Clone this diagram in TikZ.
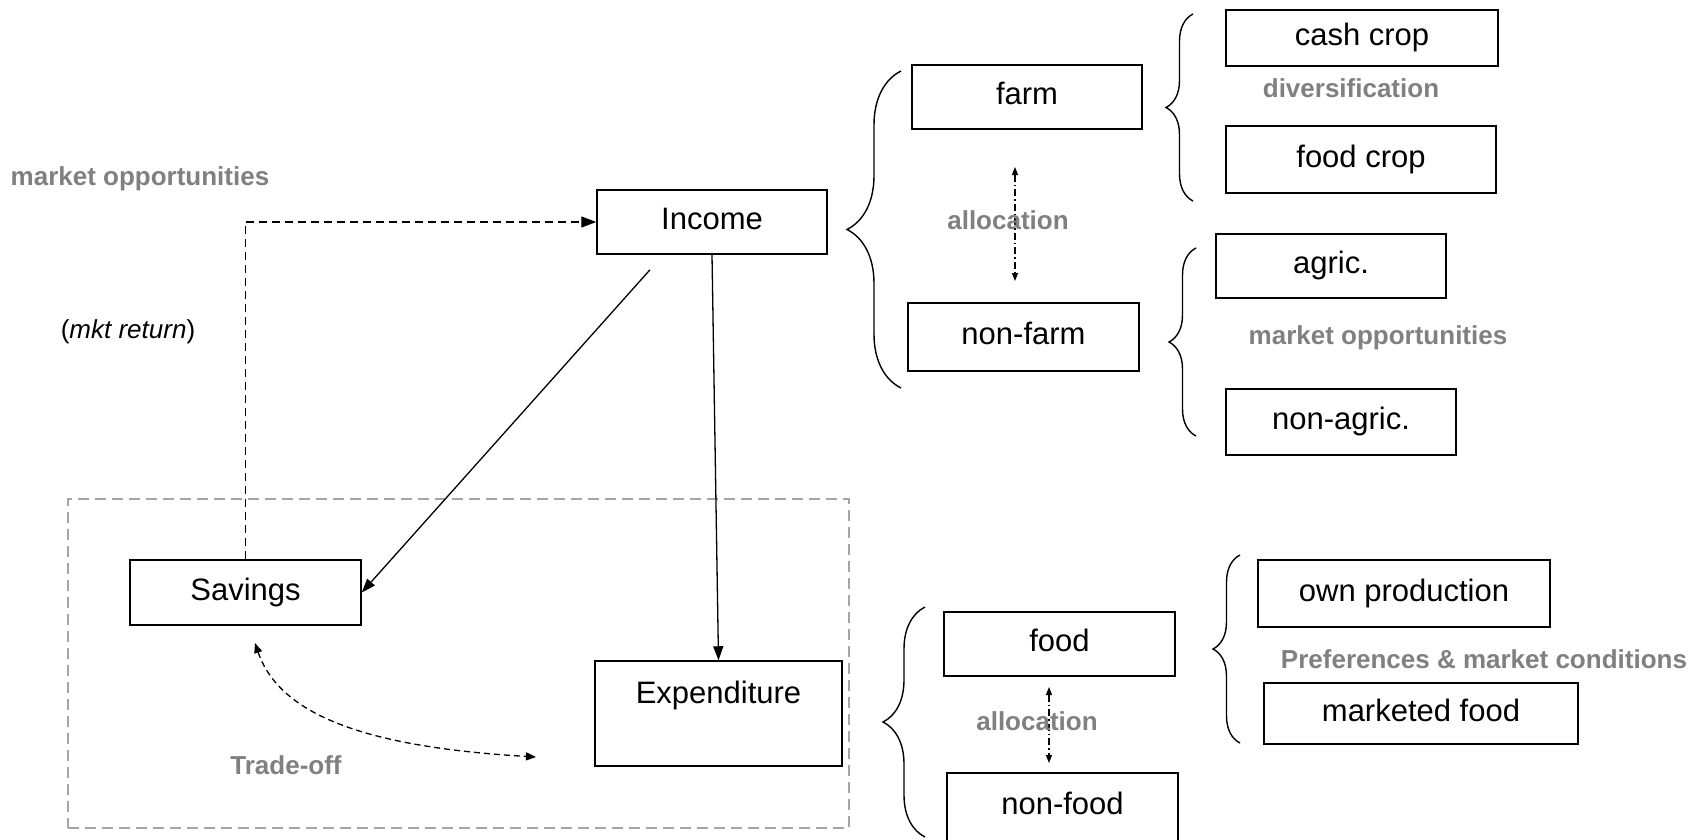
\documentclass[tikz,border=0pt]{standalone}
\usepackage{fontspec}
\setmainfont{Liberation Sans}
\usetikzlibrary{arrows.meta,decorations.pathreplacing,calc}
\definecolor{lgray}{RGB}{128,128,128}
\definecolor{fgray}{RGB}{165,165,165}
\pgfdeclarelayer{edgelayer}
\pgfdeclarelayer{nodelayer}
\pgfsetlayers{edgelayer,nodelayer,main}
\tikzstyle{box}=[rectangle, draw=black, line width=1.5pt, inner sep=0pt, text height=22pt, text depth=7pt, font=\fontsize{31}{37}\selectfont]
\tikzstyle{note}=[inner sep=0pt, text=lgray, font=\bfseries\fontsize{26}{31}\selectfont]
\tikzstyle{plain}=[inner sep=0pt, font=\fontsize{26}{31}\selectfont]
\tikzstyle{flow}=[-{Triangle[length=14pt,width=10pt]}, line width=1.3pt]
\tikzstyle{market}=[-{Triangle[length=15pt,width=11pt]}, line width=1.3pt, dash pattern=on 8pt off 5pt]
\tikzstyle{alloc}=[{Triangle[length=8pt,width=6pt]}-{Triangle[length=8pt,width=6pt]}, line width=1.2pt, dash pattern=on 7pt off 3pt on 1.5pt off 3pt]
\tikzstyle{tradeoff}=[{Triangle[length=10pt,width=8pt]}-{Triangle[length=10pt,width=8pt]}, line width=1.3pt, dash pattern=on 6pt off 4pt]
\tikzstyle{frame}=[rectangle, draw=fgray, line width=2pt, dash pattern=on 11pt off 6pt, inner sep=0pt]
\tikzset{curly/.style={decorate, decoration={brace, amplitude=#1}, line width=1.4pt}}

\begin{document}
\begin{tikzpicture}[x=1pt, y=-1pt]
    \useasboundingbox (0,0) rectangle (1706,839);
    \begin{pgfonlayer}{nodelayer}
        \node [style=box, minimum width=230pt, minimum height=64pt] (income) at (712, 222) {Income};
        \node [style=box, minimum width=231pt, minimum height=65pt] (savings) at (245.5, 592.5) {Savings};
        \node [style=box, minimum width=247pt, minimum height=105pt, text depth=43pt] (expenditure) at (718.5, 713.5) {Expenditure};

        \node [style=box, minimum width=230pt, minimum height=64pt] (farm) at (1027, 97) {farm};
        \node [style=box, minimum width=231pt, minimum height=68pt] (nonfarm) at (1023.5, 337) {non-farm};
        \node [style=box, minimum width=272pt, minimum height=56pt] (cashcrop) at (1362, 38) {cash crop};
        \node [style=box, minimum width=270pt, minimum height=67pt] (foodcrop) at (1361, 159.5) {food crop};
        \node [style=box, minimum width=230pt, minimum height=64pt] (agric) at (1331, 266) {agric.};
        \node [style=box, minimum width=230pt, minimum height=66pt] (nonagric) at (1341, 422) {non-agric.};

        \node [style=box, minimum width=231pt, minimum height=64pt] (food) at (1059.5, 644) {food};
        \node [style=box, minimum width=231pt, minimum height=68pt] (nonfood) at (1062.5, 807) {non-food};
        \node [style=box, minimum width=292pt, minimum height=67pt] (ownprod) at (1404, 593.5) {own production};
        \node [style=box, minimum width=314pt, minimum height=61pt] (mktfood) at (1421, 713.5) {marketed food};

        \node [style=note] (mktopp1) at (140, 179) {market opportunities};
        \node [style=plain] (mktret) at (128, 332) {(\textit{mkt return})};
        \node [style=note] (divers) at (1351, 88) {diversification};
        \node [style=note] (alloc1) at (1008, 220) {allocation};
        \node [style=note] (mktopp2) at (1378, 338) {market opportunities};
        \node [style=note] (prefs) at (1484, 659) {Preferences \& market conditions};
        \node [style=note] (alloc2) at (1037, 721) {allocation};
        \node [style=note] (trade) at (286, 765) {Trade-off};
    \end{pgfonlayer}
    \begin{pgfonlayer}{edgelayer}
        \node [style=frame, minimum width=781pt, minimum height=329pt] (tradebox) at (458.5, 663.5) {};

        \draw [style=flow] ($(income.south)+(-62,15)$) -- (savings.east);
        \draw [style=flow] (income.south) -- (expenditure.north);
        \draw [style=market] (savings.north) |- (income.west);

        \coordinate (a1top) at (1015, 167);
        \coordinate (a1bot) at (1015, 281);
        \coordinate (a2top) at (1049, 687);
        \coordinate (a2bot) at (1049, 763);
        \draw [style=alloc] (a1top) -- (a1bot);
        \draw [style=alloc] (a2top) -- (a2bot);

        \coordinate (tsav) at (255, 643);
        \coordinate (texp) at (536, 757);
        \draw [style=tradeoff] (tsav) .. controls (282, 722) and (385, 748) .. (texp);

        % braces
        \draw [curly=54pt] (901, 388) -- (901, 71);
        \draw [curly=27pt] (1193, 201) -- (1193, 14);
        \draw [curly=27pt] (1196, 436) -- (1196, 248);
        \draw [curly=42pt] (925, 837) -- (925, 607);
        \draw [curly=27pt] (1240, 743) -- (1240, 555);
    \end{pgfonlayer}
\end{tikzpicture}
\end{document}
